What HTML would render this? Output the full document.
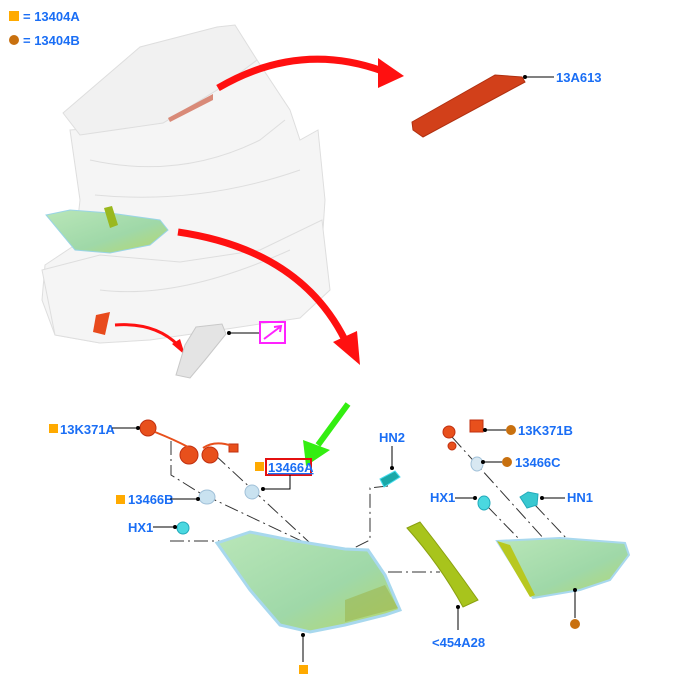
<!DOCTYPE html>
<html><head><meta charset="utf-8"><style>
html,body{margin:0;padding:0;background:#fff;}
svg{display:block;}
text{font-family:"Liberation Sans",Arial,sans-serif;font-weight:bold;font-size:13px;fill:#1a6ef5;}
</style></head><body>
<svg width="684" height="686" viewBox="0 0 684 686" xmlns="http://www.w3.org/2000/svg">
<defs>
<linearGradient id="lg" x1="0" y1="0" x2="1" y2="1"><stop offset="0" stop-color="#b9e6b8"/><stop offset="0.6" stop-color="#9fd8a8"/><stop offset="1" stop-color="#b8d86a"/></linearGradient>
</defs>
<!-- legend -->
<rect x="9" y="11" width="10" height="10" fill="#ffaa00"/>
<text x="23" y="21">= 13404A</text>
<circle cx="14" cy="40" r="5" fill="#c8700f"/>
<text x="23" y="45">= 13404B</text>

<!-- car body -->
<g fill="#f5f5f5" stroke="#dedede" stroke-width="1">
<polygon points="70,130 163,123 217,90 257,60 290,110 300,140 318,130 325,200 322,245 295,272 220,298 150,325 100,343 55,335 42,300 45,265 75,245 80,200"/>
<polygon points="42,270 100,255 180,262 260,250 322,220 330,290 300,318 220,330 150,340 100,343 55,335"/>
<polygon points="63,113 140,47 217,27 235,25 257,60 217,90 163,123 80,135" fill="#f1f1f1"/>
<path d="M90,160 Q180,180 260,140 L285,120" fill="none"/>
<path d="M95,195 Q200,205 300,170" fill="none"/>
<path d="M100,290 Q180,300 290,250" fill="none"/>
</g>
<polygon points="168,118 213,94 213,100 170,122" fill="#d98a78"/>
<!-- lamp on car -->
<polygon points="46,215 70,210 110,213 160,220 168,230 150,245 110,253 75,250" fill="url(#lg)" stroke="#9ad4e6"/>
<polygon points="104,208 112,206 118,225 110,228" fill="#9ab81e"/>
<polygon points="96,315 110,312 105,335 93,332" fill="#e84a1c"/>
<!-- red arrows -->
<path d="M218,88 Q300,40 385,72" fill="none" stroke="#ff1010" stroke-width="7"/>
<polygon points="378,58 404,76 378,88" fill="#ff1010"/>
<path d="M178,232 Q300,250 345,340" fill="none" stroke="#ff1010" stroke-width="7"/>
<polygon points="333,342 360,365 357,331" fill="#ff1010"/>
<path d="M115,325 Q155,322 178,345" fill="none" stroke="#ff1010" stroke-width="3"/>
<polygon points="172,344 185,355 180,339" fill="#ff1010"/>
<!-- small grey part -->
<polygon points="196,327 222,324 226,334 205,360 190,378 176,375 185,345" fill="#e4e4e4" stroke="#c8c8c8"/>
<line x1="229" y1="333" x2="259" y2="333" stroke="#000"/><circle cx="229" cy="333" r="2"/>
<rect x="260" y="322" width="25" height="21" fill="none" stroke="#ff22ff" stroke-width="2"/>
<path d="M264,339 L280,327 M274,327 L281,326 L280,332" stroke="#ff22ff" stroke-width="2" fill="none"/>
<!-- brake light -->
<polygon points="412,122 495,75 522,77 525,82 423,137 413,130" fill="#d2401a" stroke="#b03010"/>
<line x1="525" y1="77" x2="554" y2="77" stroke="#000"/><circle cx="525" cy="77" r="2"/>
<text x="556" y="82">13A613</text>

<!-- green arrow -->
<line x1="348" y1="404" x2="318" y2="445" stroke="#33ee11" stroke-width="6"/>
<polygon points="303,440 330,450 306,466" fill="#33ee11"/>

<!-- dash lines -->
<g stroke="#333" stroke-width="1" fill="none" stroke-dasharray="14,4,2,4">
<path d="M171,441 L171,475 L200,493 L310,545"/>
<path d="M215,455 L310,543"/>
<path d="M170,541 L237,541"/>
<path d="M388,486 L370,488 L370,540 L350,550"/>
<path d="M388,572 L440,572"/>
<path d="M452,437 L545,540"/>
<path d="M487,506 L520,540"/>
<path d="M535,505 L568,540"/>
</g>
<!-- left connectors -->
<g fill="#e8501c" stroke="#c03010">
<circle cx="148" cy="428" r="8"/><circle cx="189" cy="455" r="9"/><circle cx="210" cy="455" r="8"/>
<rect x="229" y="444" width="9" height="8"/>
</g>
<path d="M155,432 Q175,440 188,447 M203,448 Q215,440 232,446" stroke="#e8501c" stroke-width="2" fill="none"/>
<!-- bulbs -->
<ellipse cx="207" cy="497" rx="8" ry="7" fill="#c9e2f0" stroke="#a0c0d8"/>
<ellipse cx="252" cy="492" rx="7" ry="7" fill="#c9e2f0" stroke="#a0c0d8"/>
<circle cx="183" cy="528" r="6" fill="#4ad8e0" stroke="#2ab"/>
<!-- left labels -->
<rect x="49" y="424" width="9" height="9" fill="#ffaa00"/>
<text x="60" y="434">13K371A</text>
<line x1="112" y1="428" x2="138" y2="428" stroke="#000"/><circle cx="138" cy="428" r="2"/>
<rect x="255" y="462" width="9" height="9" fill="#ffaa00"/>
<rect x="266" y="459" width="45" height="16" fill="none" stroke="#e41010" stroke-width="2"/>
<text x="268" y="472" style="text-decoration:underline">13466A</text>
<path d="M290,475 L290,489 L263,489" stroke="#000" fill="none"/><circle cx="263" cy="489" r="2"/>
<rect x="116" y="495" width="9" height="9" fill="#ffaa00"/>
<text x="128" y="504">13466B</text>
<line x1="170" y1="499" x2="198" y2="499" stroke="#000"/><circle cx="198" cy="499" r="2"/>
<text x="128" y="532">HX1</text>
<line x1="153" y1="527" x2="175" y2="527" stroke="#000"/><circle cx="175" cy="527" r="2"/>

<!-- big lamp -->
<polygon points="217,543 250,532 290,540 345,549 368,550 385,575 400,610 385,615 345,625 310,632 280,625 250,590" fill="url(#lg)" stroke="#a8d8ee" stroke-width="3"/>
<polygon points="345,600 385,585 398,608 345,622" fill="#9cb850" opacity="0.6"/>
<circle cx="303" cy="635" r="2"/><line x1="303" y1="635" x2="303" y2="662" stroke="#000"/>
<rect x="299" y="665" width="9" height="9" fill="#ffaa00"/>

<!-- HN2 -->
<text x="379" y="442">HN2</text>
<line x1="392" y1="446" x2="392" y2="468" stroke="#000"/><circle cx="392" cy="468" r="2"/>
<polygon points="380,479 395,471 400,477 384,487" fill="#1aa8a8" stroke="#4de"/>
<!-- bezel -->
<path d="M407,528 L420,522 Q450,560 478,600 L463,607 Q440,565 407,528 Z" fill="#a8c41c" stroke="#8aa010"/>
<line x1="458" y1="607" x2="458" y2="630" stroke="#000"/><circle cx="458" cy="607" r="2"/>
<text x="432" y="647">&lt;454A28</text>

<!-- right connectors -->
<g fill="#e8501c" stroke="#c03010">
<circle cx="449" cy="432" r="6"/><rect x="470" y="420" width="13" height="12"/><circle cx="452" cy="446" r="4"/>
</g>
<line x1="485" y1="430" x2="506" y2="430" stroke="#000"/><circle cx="485" cy="430" r="2"/>
<circle cx="511" cy="430" r="5" fill="#c8700f"/>
<text x="518" y="435">13K371B</text>
<ellipse cx="477" cy="464" rx="6" ry="7" fill="#d8e8f2" stroke="#a0c0d8"/>
<line x1="483" y1="462" x2="502" y2="462" stroke="#000"/><circle cx="483" cy="462" r="2"/>
<circle cx="507" cy="462" r="5" fill="#c8700f"/>
<text x="515" y="467">13466C</text>
<text x="430" y="502">HX1</text>
<line x1="455" y1="498" x2="475" y2="498" stroke="#000"/><circle cx="475" cy="498" r="2"/>
<ellipse cx="484" cy="503" rx="6" ry="7" fill="#4ad8e0" stroke="#2ab"/>
<polygon points="520,497 528,492 538,494 537,505 527,508" fill="#38c8d0" stroke="#2ab"/>
<line x1="542" y1="498" x2="565" y2="498" stroke="#000"/><circle cx="542" cy="498" r="2"/>
<text x="567" y="502">HN1</text>
<!-- right lamp -->
<polygon points="497,541 560,538 625,543 629,555 610,580 580,590 533,598" fill="url(#lg)" stroke="#a8d8ee" stroke-width="2"/>
<polygon points="497,541 510,545 535,595 530,597" fill="#b8c820"/>
<circle cx="575" cy="590" r="2"/><line x1="575" y1="590" x2="575" y2="618" stroke="#000"/>
<circle cx="575" cy="624" r="5" fill="#c8700f"/>
</svg>
</body></html>
